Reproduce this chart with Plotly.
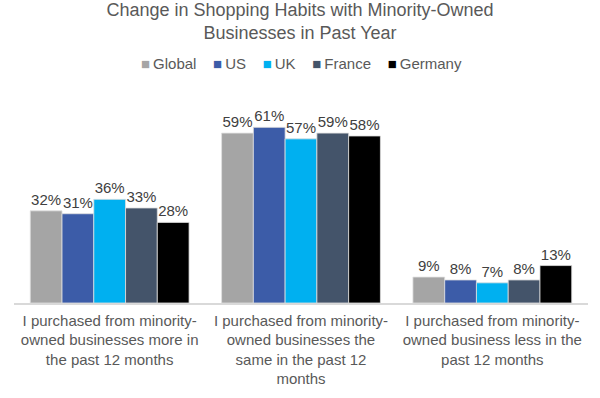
import plotly.graph_objects as go

categories = [
    "I purchased from minority-<br>owned businesses more in<br>the past 12 months",
    "I purchased from minority-<br>owned businesses the<br>same in the past 12<br>months",
    "I purchased from minority-<br>owned business less in the<br>past 12 months",
]
series_names = ["Global", "US", "UK", "France", "Germany"]
global_vals = [0.32, 0.59, 0.09]
us_vals = [0.31, 0.61, 0.08]
uk_vals = [0.36, 0.57, 0.07]
france_vals = [0.33, 0.59, 0.08]
germany_vals = [0.28, 0.58, 0.13]
colors = ["#A5A5A5", "#3C5CA8", "#00B0F0", "#44546A", "#000000"]

FONT = "Liberation Sans, Arial"

fig = go.Figure()
for name, vals, col in zip(series_names,
                           [global_vals, us_vals, uk_vals, france_vals, germany_vals],
                           colors):
    fig.add_trace(go.Bar(
        name=name, x=categories, y=vals,
        marker=dict(color=col, line=dict(color="#E0E0E0", width=0.8)),
        text=[f"{round(v*100)}%" for v in vals],
        textposition="outside",
        textfont=dict(family=FONT, size=15, color="#404040"),
        cliponaxis=False,
        showlegend=False,
    ))

# legend drawn as a text line with coloured square glyphs
legend_text = "&nbsp;&nbsp;&nbsp;&nbsp;".join(
    f"<span style='color:{c}'>■</span>\u2009{n}" for n, c in zip(series_names, colors)
)

fig.update_layout(
    width=600, height=398,
    paper_bgcolor="white", plot_bgcolor="white",
    barmode="group", bargap=0.17, bargroupgap=0,
    title=dict(
        text="Change in Shopping Habits with Minority-Owned<br>Businesses in Past Year",
        x=0.5, xanchor="center", yref="container", y=0.96, yanchor="top",
        font=dict(family=FONT, size=18, color="#595959"),
    ),
    margin=dict(l=14, r=12, t=100, b=95),
    annotations=[dict(
        text=legend_text, xref="paper", yref="paper", x=0.5, y=1.18,
        xanchor="center", yanchor="middle", showarrow=False,
        font=dict(family=FONT, size=15, color="#595959"),
    )],
)
fig.update_xaxes(
    showline=True, linecolor="#D9D9D9", linewidth=1.5,
    tickfont=dict(family=FONT, size=15, color="#595959"),
    ticks="", automargin=False, ticklabelstandoff=3,
)
fig.update_yaxes(range=[0, 0.705], visible=False, showgrid=False, automargin=False)

fig.write_html("out.html", config={"displayModeBar": False},
               post_script="document.body.style.margin='0px';")
